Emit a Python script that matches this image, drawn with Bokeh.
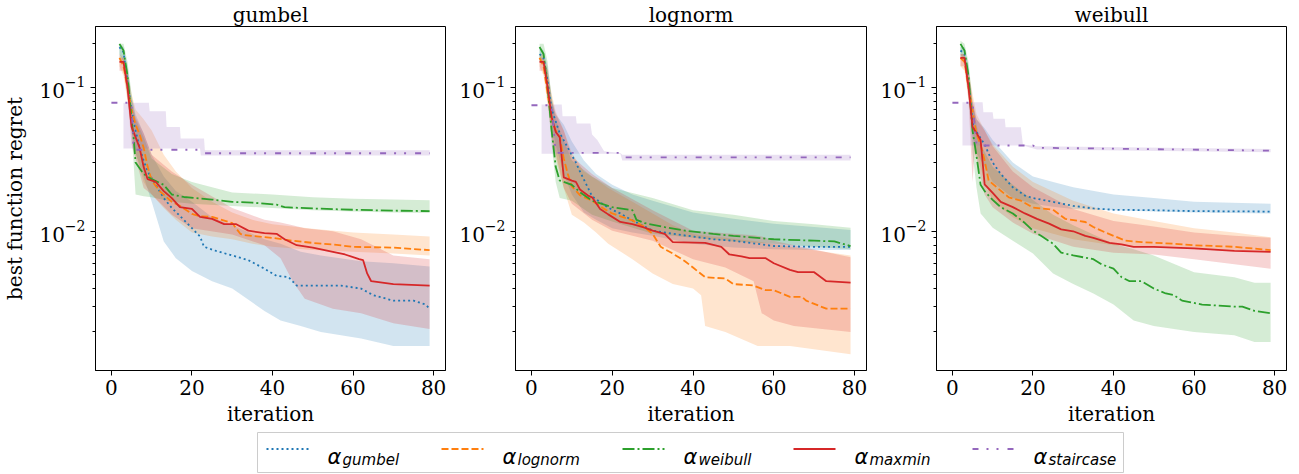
import math
from bokeh.plotting import figure
from bokeh.models import Range1d, FixedTicker, LogTickFormatter
from bokeh.layouts import row, column
from bokeh.embed import file_html
from bokeh.resources import INLINE
from bokeh.core.properties import value

# ---------------- data ----------------
PANEL_TITLES = ["gumbel", "lognorm", "weibull"]
METHODS = ["gumbel", "lognorm", "weibull", "maxmin", "staircase"]
X_TICKS = [0, 20, 40, 60, 80]
Y_MAJOR = [0.01, 0.1]
Y_MINOR = [0.002, 0.003, 0.004, 0.005, 0.006, 0.007, 0.008, 0.009,
           0.02, 0.03, 0.04, 0.05, 0.06, 0.07, 0.08, 0.09, 0.2]

# ---- panel "gumbel" ----
G_GUM_X = [2, 3, 4, 5, 6, 7, 8, 9, 11, 13, 15, 17, 20, 22, 23, 26, 30, 34, 38, 41, 44, 46, 57, 62, 65, 70, 75, 78, 79]
G_GUM_Y = [0.19, 0.175, 0.11, 0.07, 0.05, 0.038, 0.031, 0.026, 0.021, 0.017, 0.0145, 0.0128, 0.0105, 0.0092, 0.0078, 0.0073, 0.0068, 0.0063, 0.0055, 0.0049, 0.0048, 0.0042, 0.0042, 0.0040, 0.0036, 0.0033, 0.0033, 0.0031, 0.0029]
G_GUM_BX = [2, 3, 4, 5, 6, 8, 10, 13, 16, 20, 25, 30, 38, 42, 47, 52, 62, 70, 79]
G_GUM_LO = [0.16, 0.14, 0.085, 0.05, 0.035, 0.024, 0.016, 0.0085, 0.0065, 0.0053, 0.0045, 0.004, 0.0028, 0.0024, 0.0022, 0.002, 0.0018, 0.0016, 0.0016]
G_GUM_HI = [0.2, 0.19, 0.14, 0.085, 0.065, 0.048, 0.034, 0.024, 0.019, 0.016, 0.0125, 0.011, 0.0088, 0.0082, 0.0072, 0.0068, 0.0062, 0.006, 0.0057]

G_LOG_X = [2, 3, 4, 5, 6, 7, 8, 9, 10, 12, 15, 17, 20, 22, 25, 30, 32, 33, 40, 45, 50, 55, 60, 70, 79]
G_LOG_Y = [0.16, 0.14, 0.1, 0.07, 0.055, 0.047, 0.038, 0.028, 0.0225, 0.019, 0.016, 0.015, 0.0132, 0.0127, 0.0126, 0.0114, 0.0096, 0.0094, 0.009, 0.0086, 0.0083, 0.0081, 0.0078, 0.0077, 0.0074]
G_LOG_BX = [2, 3, 4, 5, 6, 8, 10, 13, 16, 20, 25, 30, 35, 40, 50, 60, 70, 79]
G_LOG_LO = [0.14, 0.12, 0.08, 0.05, 0.035, 0.022, 0.018, 0.0145, 0.012, 0.0098, 0.0092, 0.0088, 0.0082, 0.0078, 0.0074, 0.0072, 0.007, 0.0068]
G_LOG_HI = [0.17, 0.16, 0.13, 0.09, 0.07, 0.06, 0.05, 0.034, 0.026, 0.02, 0.016, 0.0135, 0.012, 0.0112, 0.0104, 0.0098, 0.0095, 0.0092]

G_WEI_X = [2, 3, 4, 5, 5.5, 6, 8, 10, 13, 15, 18, 25, 30, 35, 41, 43, 50, 60, 70, 79]
G_WEI_Y = [0.2, 0.18, 0.12, 0.06, 0.045, 0.03, 0.025, 0.023, 0.021, 0.018, 0.0173, 0.0166, 0.016, 0.0158, 0.0153, 0.0147, 0.0144, 0.0141, 0.0139, 0.0138]
G_WEI_BX = [2, 3, 4, 5, 6, 8, 10, 15, 20, 30, 40, 50, 60, 70, 79]
G_WEI_LO = [0.17, 0.15, 0.09, 0.05, 0.018, 0.0175, 0.0172, 0.016, 0.0155, 0.015, 0.0145, 0.014, 0.0137, 0.0135, 0.0134]
G_WEI_HI = [0.2, 0.2, 0.15, 0.09, 0.06, 0.045, 0.032, 0.025, 0.022, 0.0186, 0.018, 0.0172, 0.0168, 0.0166, 0.0164]

G_MAX_X = [2, 3, 4, 5, 6, 7, 8, 9, 11, 13, 15, 17, 20, 22, 25, 28, 31, 34, 38, 41, 43, 46, 50, 55, 58, 61.5, 62.5, 63.5, 64.5, 70, 79]
G_MAX_Y = [0.15, 0.15, 0.1, 0.053, 0.045, 0.038, 0.028, 0.023, 0.022, 0.019, 0.017, 0.0147, 0.0143, 0.0126, 0.0122, 0.0112, 0.0112, 0.0101, 0.0097, 0.0096, 0.0088, 0.0080, 0.0077, 0.0072, 0.0069, 0.0064, 0.0063, 0.0051, 0.0045, 0.0043, 0.0042]
G_MAX_BX = [2, 3, 4, 5, 6, 8, 10, 15, 20, 30, 38, 42, 45, 48, 55, 62, 70, 79]
G_MAX_LO = [0.13, 0.13, 0.085, 0.04, 0.032, 0.02, 0.018, 0.013, 0.0105, 0.0095, 0.008, 0.0065, 0.0045, 0.0034, 0.0029, 0.0027, 0.0023, 0.0021]
G_MAX_HI = [0.16, 0.16, 0.13, 0.075, 0.062, 0.048, 0.034, 0.026, 0.021, 0.0145, 0.012, 0.0115, 0.011, 0.0105, 0.01, 0.0088, 0.0068, 0.0064]

G_STA_X = [0, 5, 5.5, 22, 23, 79]
G_STA_Y = [0.078, 0.078, 0.0368, 0.0368, 0.0348, 0.0348]
G_STA_BX = [3, 9.3, 9.5, 13.5, 13.7, 17, 17.2, 22, 22.2, 23, 23.2, 79]
G_STA_LO = [0.0375, 0.0375, 0.0375, 0.0375, 0.0375, 0.0375, 0.0375, 0.0375, 0.0336, 0.0336, 0.0336, 0.0336]
G_STA_HI = [0.078, 0.078, 0.068, 0.068, 0.053, 0.053, 0.044, 0.044, 0.044, 0.044, 0.0365, 0.0365]

# ---- panel "lognorm" ----
L_GUM_X = [2, 3, 4, 5, 7, 9, 11, 12, 14, 15, 18, 20, 22, 25, 30, 35, 40, 45, 50, 60, 70, 79]
L_GUM_Y = [0.17, 0.16, 0.11, 0.07, 0.048, 0.038, 0.03, 0.026, 0.02, 0.0175, 0.0152, 0.0141, 0.0133, 0.0119, 0.0101, 0.0096, 0.0092, 0.0088, 0.0086, 0.0079, 0.0078, 0.0078]
L_GUM_BX = [2, 3, 4, 5, 6, 8, 10, 13, 16, 20, 25, 30, 40, 50, 60, 70, 79]
L_GUM_LO = [0.15, 0.14, 0.09, 0.055, 0.04, 0.025, 0.018, 0.0135, 0.012, 0.0105, 0.0098, 0.0093, 0.0082, 0.0077, 0.0075, 0.0074, 0.0074]
L_GUM_HI = [0.19, 0.18, 0.14, 0.085, 0.065, 0.055, 0.042, 0.031, 0.025, 0.021, 0.018, 0.0163, 0.0135, 0.0122, 0.0113, 0.0107, 0.0102]

L_LOG_X = [2, 3, 4, 5, 6, 7, 8, 9, 10, 12, 15, 18, 20, 25, 28, 30, 32, 35, 38, 40, 43, 48, 50, 55, 58, 60, 64, 67, 68, 73, 79]
L_LOG_Y = [0.16, 0.14, 0.09, 0.06, 0.05, 0.045, 0.032, 0.025, 0.0205, 0.0178, 0.0163, 0.0143, 0.0133, 0.0119, 0.0107, 0.0096, 0.0078, 0.007, 0.0062, 0.0056, 0.0048, 0.0047, 0.0043, 0.0042, 0.0039, 0.0039, 0.0035, 0.0035, 0.0033, 0.0029, 0.0029]
L_LOG_BX = [2, 3, 4, 5, 6, 8, 10, 13, 16, 19, 25, 30, 35, 40, 42, 43, 48, 56, 64, 79]
L_LOG_LO = [0.14, 0.12, 0.075, 0.045, 0.032, 0.02, 0.013, 0.0115, 0.0098, 0.0082, 0.0064, 0.0051, 0.0043, 0.004, 0.0036, 0.0022, 0.002, 0.0016, 0.0016, 0.0014]
L_LOG_HI = [0.17, 0.17, 0.13, 0.09, 0.068, 0.05, 0.035, 0.026, 0.023, 0.02, 0.016, 0.0133, 0.011, 0.0096, 0.0094, 0.0093, 0.009, 0.0085, 0.0078, 0.0068]

L_WEI_X = [2, 3, 4, 5, 6, 7, 10, 12, 15, 20, 25, 26, 28, 33, 38, 45, 50, 60, 70, 75, 79]
L_WEI_Y = [0.19, 0.17, 0.1, 0.05, 0.028, 0.0225, 0.021, 0.0187, 0.0163, 0.0147, 0.014, 0.012, 0.0114, 0.0107, 0.0101, 0.0096, 0.0093, 0.0088, 0.0086, 0.0085, 0.0079]
L_WEI_BX = [2, 3, 4, 5, 6, 7, 10, 15, 20, 30, 40, 50, 60, 70, 79]
L_WEI_LO = [0.16, 0.15, 0.085, 0.04, 0.022, 0.017, 0.0163, 0.013, 0.0117, 0.0096, 0.009, 0.0085, 0.0082, 0.0078, 0.0075]
L_WEI_HI = [0.2, 0.2, 0.15, 0.085, 0.06, 0.05, 0.031, 0.024, 0.02, 0.017, 0.014, 0.013, 0.0118, 0.0112, 0.0106]

L_MAX_X = [2, 3, 4, 5, 6, 7, 8, 10, 11, 12, 14, 15, 17, 19, 22, 25, 28, 30, 33, 35, 43, 47, 49, 52, 54, 58, 60, 64, 66, 70, 73, 79]
L_MAX_Y = [0.15, 0.15, 0.1, 0.062, 0.049, 0.045, 0.0237, 0.0225, 0.022, 0.0195, 0.0177, 0.0172, 0.0143, 0.0131, 0.0116, 0.0112, 0.0106, 0.0101, 0.0096, 0.0084, 0.0083, 0.0078, 0.0069, 0.0067, 0.0065, 0.0065, 0.006, 0.0054, 0.0052, 0.0052, 0.0045, 0.0044]
L_MAX_BX = [2, 3, 4, 5, 6, 8, 10, 15, 20, 30, 40, 48, 55, 57, 60, 65, 79]
L_MAX_LO = [0.13, 0.13, 0.085, 0.045, 0.035, 0.02, 0.0155, 0.012, 0.0101, 0.0086, 0.0064, 0.0056, 0.0045, 0.0027, 0.0024, 0.0022, 0.002]
L_MAX_HI = [0.16, 0.16, 0.13, 0.08, 0.065, 0.05, 0.033, 0.025, 0.02, 0.014, 0.0101, 0.0097, 0.0094, 0.0092, 0.0086, 0.008, 0.0066]

L_STA_X = [0, 5, 6, 22, 23, 79]
L_STA_Y = [0.075, 0.075, 0.035, 0.035, 0.0326, 0.0326]
L_STA_BX = [2.5, 7.5, 7.7, 11, 11.2, 14.6, 15, 16.3, 18, 22, 22.5, 79]
L_STA_LO = [0.0345, 0.0345, 0.0345, 0.0345, 0.0345, 0.0345, 0.0345, 0.0345, 0.0345, 0.0345, 0.031, 0.031]
L_STA_HI = [0.076, 0.076, 0.063, 0.063, 0.056, 0.056, 0.047, 0.043, 0.036, 0.035, 0.034, 0.034]

# ---- panel "weibull" ----
W_GUM_X = [2, 3, 4, 5, 6, 8, 10, 12, 15, 18, 20, 25, 30, 35, 40, 50, 60, 79]
W_GUM_Y = [0.18, 0.17, 0.11, 0.056, 0.049, 0.04, 0.03, 0.025, 0.0202, 0.0177, 0.017, 0.016, 0.015, 0.0144, 0.0141, 0.014, 0.0138, 0.0137]
W_GUM_BX = [2, 3, 4, 5, 6, 8, 10, 15, 20, 25, 30, 40, 50, 60, 79]
W_GUM_LO = [0.16, 0.15, 0.09, 0.045, 0.035, 0.028, 0.022, 0.017, 0.0155, 0.0148, 0.0143, 0.014, 0.0137, 0.0135, 0.0133]
W_GUM_HI = [0.19, 0.19, 0.14, 0.075, 0.06, 0.052, 0.043, 0.03, 0.024, 0.022, 0.0202, 0.018, 0.017, 0.016, 0.0155]

W_LOG_X = [2, 3, 4, 5, 6, 7, 8, 9, 11, 14, 17, 20, 25, 28, 33, 35, 38, 40, 43, 47, 55, 60, 70, 79]
W_LOG_Y = [0.16, 0.15, 0.1, 0.069, 0.047, 0.04, 0.031, 0.0225, 0.0202, 0.0172, 0.0163, 0.0146, 0.0141, 0.0122, 0.0116, 0.0107, 0.0098, 0.0093, 0.0086, 0.0084, 0.0082, 0.008, 0.0078, 0.0074]
W_LOG_BX = [2, 3, 4, 5, 6, 8, 10, 15, 20, 30, 40, 50, 60, 70, 79]
W_LOG_LO = [0.14, 0.13, 0.085, 0.05, 0.035, 0.022, 0.0163, 0.0125, 0.0105, 0.0088, 0.008, 0.0077, 0.0075, 0.0073, 0.0072]
W_LOG_HI = [0.17, 0.17, 0.13, 0.09, 0.065, 0.05, 0.04, 0.028, 0.022, 0.0163, 0.0133, 0.0118, 0.0105, 0.0098, 0.0091]

W_WEI_X = [2, 3, 4, 5, 6, 7, 8, 10, 12, 15, 18, 20, 22, 25, 27, 30, 35, 37, 40, 42, 44, 47, 50, 53, 55, 57, 62, 70, 72, 75, 79]
W_WEI_Y = [0.2, 0.18, 0.12, 0.05, 0.033, 0.021, 0.019, 0.0165, 0.0147, 0.0133, 0.0114, 0.0101, 0.0093, 0.0082, 0.0071, 0.0068, 0.0064, 0.0059, 0.0055, 0.0048, 0.0045, 0.0045, 0.004, 0.0037, 0.0036, 0.0033, 0.0031, 0.003, 0.003, 0.0028, 0.0027]
W_WEI_BX = [2, 3, 4, 5, 6, 7, 10, 15, 20, 25, 30, 35, 40, 45, 50, 60, 70, 75, 79]
W_WEI_LO = [0.17, 0.15, 0.09, 0.035, 0.02, 0.0133, 0.0106, 0.0086, 0.007, 0.0051, 0.0043, 0.0037, 0.0031, 0.0024, 0.0022, 0.002, 0.0019, 0.0017, 0.0017]
W_WEI_HI = [0.21, 0.2, 0.15, 0.08, 0.055, 0.04, 0.028, 0.021, 0.0165, 0.013, 0.011, 0.0095, 0.0082, 0.0075, 0.0068, 0.0052, 0.0048, 0.0044, 0.0044]

W_MAX_X = [2, 3, 4, 5, 6, 7, 8, 10, 12, 15, 18, 21, 24, 27, 30, 33, 35, 39, 42, 45, 50, 60, 70, 79]
W_MAX_Y = [0.16, 0.16, 0.1, 0.053, 0.048, 0.043, 0.0212, 0.0185, 0.016, 0.0147, 0.0133, 0.0122, 0.0113, 0.0103, 0.01, 0.0093, 0.009, 0.0083, 0.0081, 0.0078, 0.0078, 0.0076, 0.0073, 0.0072]
W_MAX_BX = [2, 3, 4, 5, 5.5, 6, 8, 10, 15, 20, 30, 40, 50, 60, 70, 79]
W_MAX_LO = [0.14, 0.14, 0.08, 0.022, 0.035, 0.032, 0.018, 0.0147, 0.0115, 0.0096, 0.0078, 0.0071, 0.0069, 0.0064, 0.0059, 0.0055]
W_MAX_HI = [0.17, 0.17, 0.13, 0.08, 0.07, 0.06, 0.05, 0.039, 0.026, 0.0202, 0.0143, 0.0118, 0.0108, 0.0098, 0.0093, 0.009]

W_STA_X = [0, 5, 6, 20, 21, 79]
W_STA_Y = [0.078, 0.078, 0.0394, 0.0394, 0.038, 0.0363]
W_STA_BX = [2.5, 7.5, 7.7, 10, 10.2, 13, 13.2, 17, 17.5, 21, 79]
W_STA_LO = [0.0394, 0.0394, 0.0394, 0.0394, 0.0394, 0.0394, 0.0394, 0.0394, 0.0394, 0.037, 0.0354]
W_STA_HI = [0.0787, 0.0787, 0.067, 0.067, 0.0605, 0.0605, 0.0528, 0.0528, 0.04, 0.039, 0.0373]

# ---------------- styles ----------------
COLORS = ["#1f77b4", "#ff7f0e", "#2ca02c", "#d62728", "#9467bd"]
DASHES = ["2 3", "7 3", "12 3 2 3", "solid", "6 8 2 8 2 9"]
LINE_W = 1.8
SERIF = "DejaVu Serif"
FS = "20px"

PANELS = [
    [(G_GUM_X, G_GUM_Y, G_GUM_BX, G_GUM_LO, G_GUM_HI),
     (G_LOG_X, G_LOG_Y, G_LOG_BX, G_LOG_LO, G_LOG_HI),
     (G_WEI_X, G_WEI_Y, G_WEI_BX, G_WEI_LO, G_WEI_HI),
     (G_MAX_X, G_MAX_Y, G_MAX_BX, G_MAX_LO, G_MAX_HI),
     (G_STA_X, G_STA_Y, G_STA_BX, G_STA_LO, G_STA_HI)],
    [(L_GUM_X, L_GUM_Y, L_GUM_BX, L_GUM_LO, L_GUM_HI),
     (L_LOG_X, L_LOG_Y, L_LOG_BX, L_LOG_LO, L_LOG_HI),
     (L_WEI_X, L_WEI_Y, L_WEI_BX, L_WEI_LO, L_WEI_HI),
     (L_MAX_X, L_MAX_Y, L_MAX_BX, L_MAX_LO, L_MAX_HI),
     (L_STA_X, L_STA_Y, L_STA_BX, L_STA_LO, L_STA_HI)],
    [(W_GUM_X, W_GUM_Y, W_GUM_BX, W_GUM_LO, W_GUM_HI),
     (W_LOG_X, W_LOG_Y, W_LOG_BX, W_LOG_LO, W_LOG_HI),
     (W_WEI_X, W_WEI_Y, W_WEI_BX, W_WEI_LO, W_WEI_HI),
     (W_MAX_X, W_MAX_Y, W_MAX_BX, W_MAX_LO, W_MAX_HI),
     (W_STA_X, W_STA_Y, W_STA_BX, W_STA_LO, W_STA_HI)],
]

X_MIN, X_MAX = -3.95, 82.95
Y_MIN, Y_MAX = 0.00108, 0.264
FRAME_H = 344
FRAME_WS = [350, 351, 350]
LEFT_B = [95, 65, 65]
RIGHT_B = [5, 5, 13]
TOP_B = 26
BOT_B = 54


def make_panel(i):
    p = figure(frame_width=FRAME_WS[i], frame_height=FRAME_H,
               x_range=Range1d(X_MIN, X_MAX), y_range=Range1d(Y_MIN, Y_MAX),
               y_axis_type="log", output_backend="svg", toolbar_location=None,
               min_border_left=LEFT_B[i], min_border_right=RIGHT_B[i],
               min_border_top=TOP_B, min_border_bottom=BOT_B,
               title=PANEL_TITLES[i])
    p.title.align = "center"
    p.title.text_font = SERIF
    p.title.text_font_size = FS
    p.title.text_font_style = "normal"
    p.title.text_color = "black"
    p.title.standoff = 0
    p.xgrid.visible = False
    p.ygrid.visible = False
    p.outline_line_color = "black"
    p.outline_line_width = 1
    p.background_fill_color = "white"
    p.border_fill_color = "white"

    # bands first, then lines
    for k, (x, y, bx, lo, hi) in enumerate(PANELS[i]):
        p.varea(x=bx, y1=lo, y2=hi, fill_color=COLORS[k], fill_alpha=0.2)
    for k, (x, y, bx, lo, hi) in enumerate(PANELS[i]):
        p.line(x=x, y=y, line_color=COLORS[k], line_width=LINE_W,
               line_dash=DASHES[k])

    p.xaxis.ticker = FixedTicker(ticks=X_TICKS)
    p.yaxis.ticker = FixedTicker(ticks=Y_MAJOR, minor_ticks=Y_MINOR)
    p.yaxis.formatter = LogTickFormatter()
    for ax in (p.xaxis[0], p.yaxis[0]):
        ax.axis_line_color = "black"
        ax.major_tick_line_color = "black"
        ax.minor_tick_line_color = "black"
        ax.major_tick_in = 0
        ax.minor_tick_in = 0
        ax.major_tick_out = 5
        ax.minor_tick_out = 3
        ax.major_label_text_font = SERIF
        ax.major_label_text_font_size = FS
        ax.major_label_text_color = "black"
        ax.axis_label_text_font = SERIF
        ax.axis_label_text_font_size = FS
        ax.axis_label_text_font_style = "normal"
        ax.axis_label_text_color = "black"
    p.xaxis.minor_tick_line_color = None
    p.xaxis.major_label_standoff = 4
    p.xaxis.axis_label = "iteration"
    p.xaxis.axis_label_standoff = 4
    p.yaxis.major_label_standoff = 5
    if i == 0:
        p.yaxis.axis_label = "best function regret"
        p.yaxis.axis_label_standoff = 9
    return p


panels = [make_panel(i) for i in range(3)]

# ---------------- legend ----------------
TOTAL_W = sum(FRAME_WS) + sum(LEFT_B) + sum(RIGHT_B)
LEG_H = 45
LEG_ITEM_X = [266, 441, 622, 793, 972]
LEG_SAMPLE_LEN = 42
LEG_BOX = (257, 1123, 1, 41)

leg = figure(frame_width=TOTAL_W, frame_height=LEG_H,
             x_range=Range1d(0, TOTAL_W), y_range=Range1d(0, LEG_H),
             output_backend="svg", toolbar_location=None,
             x_axis_location=None, y_axis_location=None,
             min_border=0)
leg.xgrid.visible = False
leg.ygrid.visible = False
leg.outline_line_color = None
leg.quad(left=[LEG_BOX[0]], right=[LEG_BOX[1]], bottom=[LEG_BOX[2]], top=[LEG_BOX[3]],
         fill_color="white", line_color="#cccccc", line_width=1)
for k, name in enumerate(METHODS):
    x0 = LEG_ITEM_X[k]
    leg.line(x=[x0, x0 + LEG_SAMPLE_LEN], y=[24.5, 24.5], line_color=COLORS[k],
             line_width=LINE_W, line_dash=DASHES[k])
    leg.text(x=[x0 + 61], y=[17], text=["α"], text_font=value("DejaVu Sans"),
             text_font_style="italic", text_font_size="21px",
             text_baseline="alphabetic", text_color="black")
    leg.text(x=[x0 + 76], y=[14], text=[name], text_font=value("DejaVu Sans"),
             text_font_style="italic", text_font_size="15px",
             text_baseline="alphabetic", text_color="black")

layout = column(row(*panels), leg)
open("out.html", "w").write(file_html(layout, INLINE))
